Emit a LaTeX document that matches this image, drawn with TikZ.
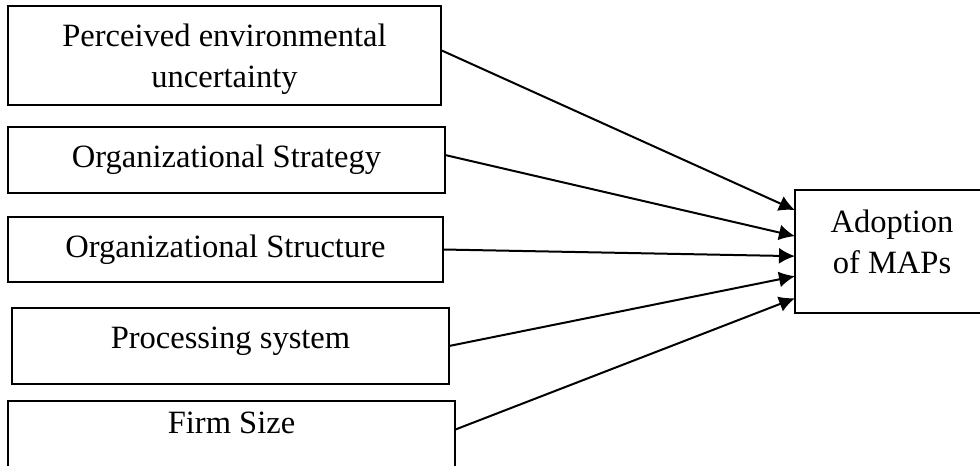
\documentclass[tikz,border=0pt]{standalone}
\usepackage{fontspec}
\setmainfont{Liberation Serif}
\usepackage{tikz}
\usetikzlibrary{positioning}
\usetikzlibrary{arrows.meta}
\tikzset{>={Latex[width=12pt,length=12pt]}}

\begin{document}
\begin{tikzpicture}[
node distance = 0pt,
factor/.style = {draw=black, line width=1.5pt, fill=white,
                 minimum width=#1,
                 align=center,
                 inner sep=3pt,
                 outer sep=0pt,
                 font=\fontsize{24.4}{31}\selectfont},
factor/.default = 327pt,
link/.style = {->, line width=1.5pt},
]
        \useasboundingbox (0,0) rectangle (735pt,-349.5pt);
        % left column of factors
        \node (pev)    [factor=324.75pt, minimum height=74.25pt,
                        text depth=0pt, anchor=north west]
                       at (6pt,-4.5pt) {Perceived environmental\\ uncertainty};
        \node (strat)  [factor=327.75pt, minimum height=49.5pt,
                        below=16.5pt of pev.south west,
                        anchor=north west] {Organizational Strategy};
        \node (struct) [factor=326.25pt, minimum height=48.75pt,
                        below=18pt of strat.south west,
                        anchor=north west] {Organizational Structure};
        \node (proc)   [factor=327.75pt, minimum height=57pt, text depth=13pt,
                        below=19.5pt of struct.south west, xshift=3pt,
                        anchor=north west] {Processing system};
        \node (size)   [factor=335.25pt, minimum height=51pt, text depth=19pt,
                        below=12.75pt of proc.south west, xshift=-3pt,
                        anchor=north west] {Firm Size};
        % outcome
        \node (maps)   [factor=145.5pt, minimum height=92.25pt, text depth=15pt,
                        anchor=north west]
                       at (596.25pt,-142.5pt) {Adoption\\ of MAPs};
        % arrows into the outcome
        \draw[link] ([yshift=4pt]pev.east)    -- ([yshift=31pt]maps.west);
        \draw[link] ([yshift=3.75pt]strat.east) -- ([yshift=11.5pt]maps.west);
        \draw[link] (struct.east)             -- ([yshift=-3.5pt]maps.west);
        \draw[link] (proc.east)               -- ([yshift=-18.5pt]maps.west);
        \draw[link] ([yshift=4pt]size.east)   -- ([yshift=-35pt]maps.west);
    \end{tikzpicture}
\end{document}
